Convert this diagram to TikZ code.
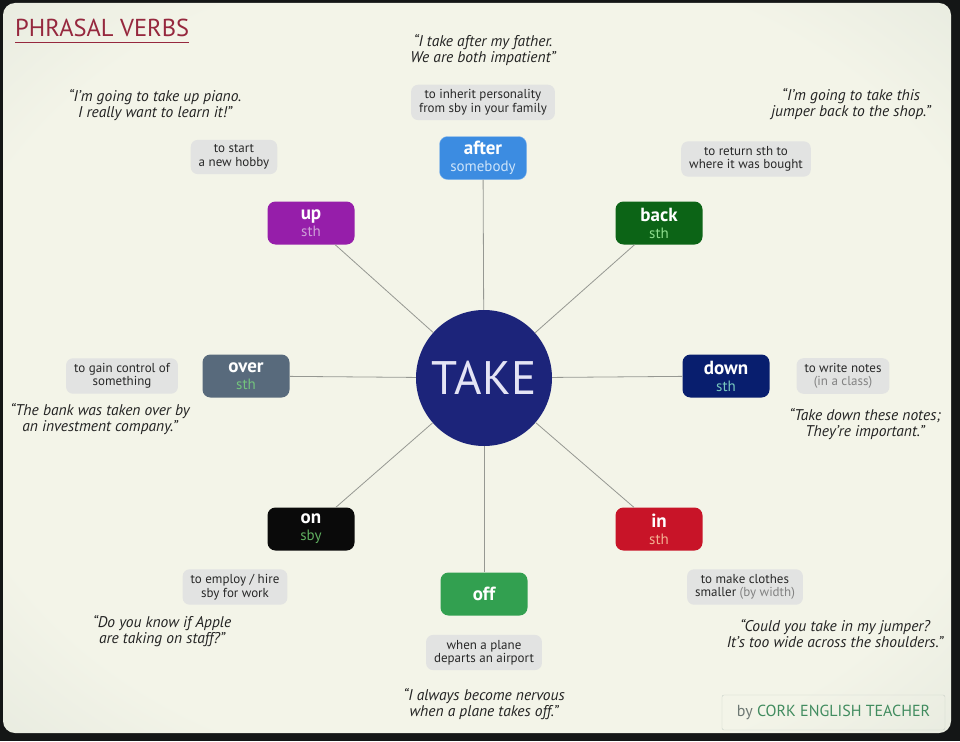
\documentclass[tikz,border=0pt]{standalone}
\usepackage{fontspec}
\setmainfont{PT Sans}
\usepackage{xcolor}
\usepackage{tikz}
\usetikzlibrary{shapes, positioning}

\definecolor{bgmid}{RGB}{243,244,232}
\definecolor{bgedge}{RGB}{224,229,218}
\definecolor{bgdark}{RGB}{178,184,178}
\definecolor{bgframe}{RGB}{20,22,22}
\definecolor{titlered}{RGB}{150,40,62}
\definecolor{takeblue}{RGB}{28,36,122}
\definecolor{takefont}{RGB}{228,228,245}
\definecolor{linegrey}{RGB}{150,152,146}
\definecolor{defgrey}{RGB}{226,227,226}
\definecolor{deftext}{RGB}{40,40,40}
\definecolor{softgrey}{RGB}{130,130,130}
\definecolor{quotetext}{RGB}{35,35,35}
\definecolor{afterblue}{RGB}{60,140,225}
\definecolor{aftersub}{RGB}{205,228,250}
\definecolor{uppurple}{RGB}{150,30,170}
\definecolor{upsub}{RGB}{205,160,215}
\definecolor{backgreen}{RGB}{12,100,22}
\definecolor{backsub}{RGB}{140,220,140}
\definecolor{overslate}{RGB}{88,106,124}
\definecolor{oversub}{RGB}{115,195,125}
\definecolor{downnavy}{RGB}{8,30,110}
\definecolor{downsub}{RGB}{120,200,190}
\definecolor{onblack}{RGB}{10,10,10}
\definecolor{onsub}{RGB}{95,175,95}
\definecolor{inred}{RGB}{200,20,40}
\definecolor{insub}{RGB}{242,175,145}
\definecolor{offgreen}{RGB}{50,160,80}
\definecolor{footgreen}{RGB}{65,140,95}
\definecolor{footgrey}{RGB}{110,120,115}
\definecolor{footline}{RGB}{200,208,200}

\pgfdeclareradialshading{vignette}{\pgfpoint{0bp}{0bp}}{%
  color(0bp)=(bgmid); color(28bp)=(bgmid); color(42bp)=(bgedge);
  color(50bp)=(bgdark); color(72bp)=(bgdark!80!black)}

\begin{document}
\begin{tikzpicture}[
        x=1pt, y=-1pt,
        verb/.style={rectangle, rounded corners=8pt, minimum width=87pt, minimum height=43pt, inner sep=0pt, align=center, text=white, font=\fontsize{19}{17}\selectfont\bfseries},
        defn/.style={rectangle, rounded corners=7pt, fill=defgrey, text=deftext, align=center, inner xsep=8pt, inner ysep=5pt, font=\fontsize{13}{13.5}\selectfont},
        quote/.style={align=center, text=quotetext, font=\fontsize{15.5}{16}\selectfont\itshape},
        link/.style={draw=linegrey, line width=0.8pt}
    ]
    \useasboundingbox (0,0) rectangle (960,741);

    % --- Background ---
    \fill[bgframe] (0,0) rectangle (960,741);
    \shade[shading=vignette, rounded corners=12pt] (3,3) rectangle (951,733);

    % --- Title ---
    \node[anchor=base west, inner sep=0pt, text=titlered, font=\fontsize{24.5}{24.5}\selectfont] (title) at (15,37) {PHRASAL VERBS};
    \draw[titlered, line width=1.6pt] ([yshift=-5pt]title.south west) -- ([yshift=-5pt]title.south east);

    % --- Centre ---
    \node[circle, fill=takeblue, minimum size=136pt, inner sep=0pt, text=takefont, font=\fontsize{47}{47}\selectfont] (take) at (484,378) {TAKE};

    % --- Particles ---
    \node[verb, fill=afterblue, draw=afterblue!60!white] (after) at (483,158) {after\\{\fontsize{15}{17}\selectfont\mdseries\color{aftersub}somebody}};
    \node[verb, fill=uppurple] (up) at (311,223) {up\\{\fontsize{15}{17}\selectfont\mdseries\color{upsub}sth}};
    \node[verb, fill=backgreen] (back) at (659,223) {back\\{\fontsize{15}{17}\selectfont\mdseries\color{backsub}sth}};
    \node[verb, fill=overslate] (over) at (246,376) {over\\{\fontsize{15}{17}\selectfont\mdseries\color{oversub}sth}};
    \node[verb, fill=downnavy] (down) at (726,376) {down\\{\fontsize{15}{17}\selectfont\mdseries\color{downsub}sth}};
    \node[verb, fill=onblack] (on) at (311,529) {on\\{\fontsize{15}{17}\selectfont\mdseries\color{onsub}sby}};
    \node[verb, fill=inred] (in) at (659,529) {in\\{\fontsize{15}{17}\selectfont\mdseries\color{insub}sth}};
    \node[verb, fill=offgreen] (off) at (484,594) {off};

    % --- Links ---
    \draw[link] (take) -- (after);
    \draw[link] (take) -- (up);
    \draw[link] (take) -- (back);
    \draw[link] (take) -- (over);
    \draw[link] (take) -- (down);
    \draw[link] (take) -- (on);
    \draw[link] (take) -- (in);
    \draw[link] (take) -- (off);

    % --- Meanings ---
    \node[defn, above=16pt of after] (afterdef) {to inherit personality\\from sby in your family};
    \node[defn] (updef) at (234,157) {to start\\a new hobby};
    \node[defn] (backdef) at (746,159) {to return sth to\\where it was bought};
    \node[defn] (overdef) at (122,376) {to gain control of\\something};
    \node[defn] (downdef) at (843,376) {to write notes\\{\color{softgrey}(in a class)}};
    \node[defn] (ondef) at (235,587) {to employ / hire\\sby for work};
    \node[defn] (indef) at (745,587) {to make clothes\\smaller {\color{softgrey}(by width)}};
    \node[defn, below=19pt of off] (offdef) {when a plane\\departs an airport};

    % --- Examples ---
    \node[quote, above=15pt of afterdef] (afterex) {“I take after my father.\\We are both impatient”};
    \node[quote] (upex) at (155,105) {“I’m going to take up piano.\\I really want to learn it!”};
    \node[quote] (backex) at (851,104) {“I’m going to take this\\jumper back to the shop.”};
    \node[quote] (overex) at (100,419) {“The bank was taken over by\\an investment company.”};
    \node[quote] (downex) at (865,424) {“Take down these notes;\\They’re important.”};
    \node[quote] (onex) at (162,631) {“Do you know if Apple\\are taking on staff?”};
    \node[quote] (inex) at (835,634) {“Could you take in my jumper?\\It’s too wide across the shoulders.”};
    \node[quote, below=15pt of offdef] (offex) {“I always become nervous\\when a plane takes off.”};

    % --- Credit ---
    \node[draw=footline, rounded corners=2pt, minimum width=223pt, minimum height=35pt, text=footgreen, font=\fontsize{16}{16}\selectfont] (credit) at (833.5,712.5) {{\color{footgrey}by} CORK ENGLISH TEACHER};

\end{tikzpicture}
\end{document}
